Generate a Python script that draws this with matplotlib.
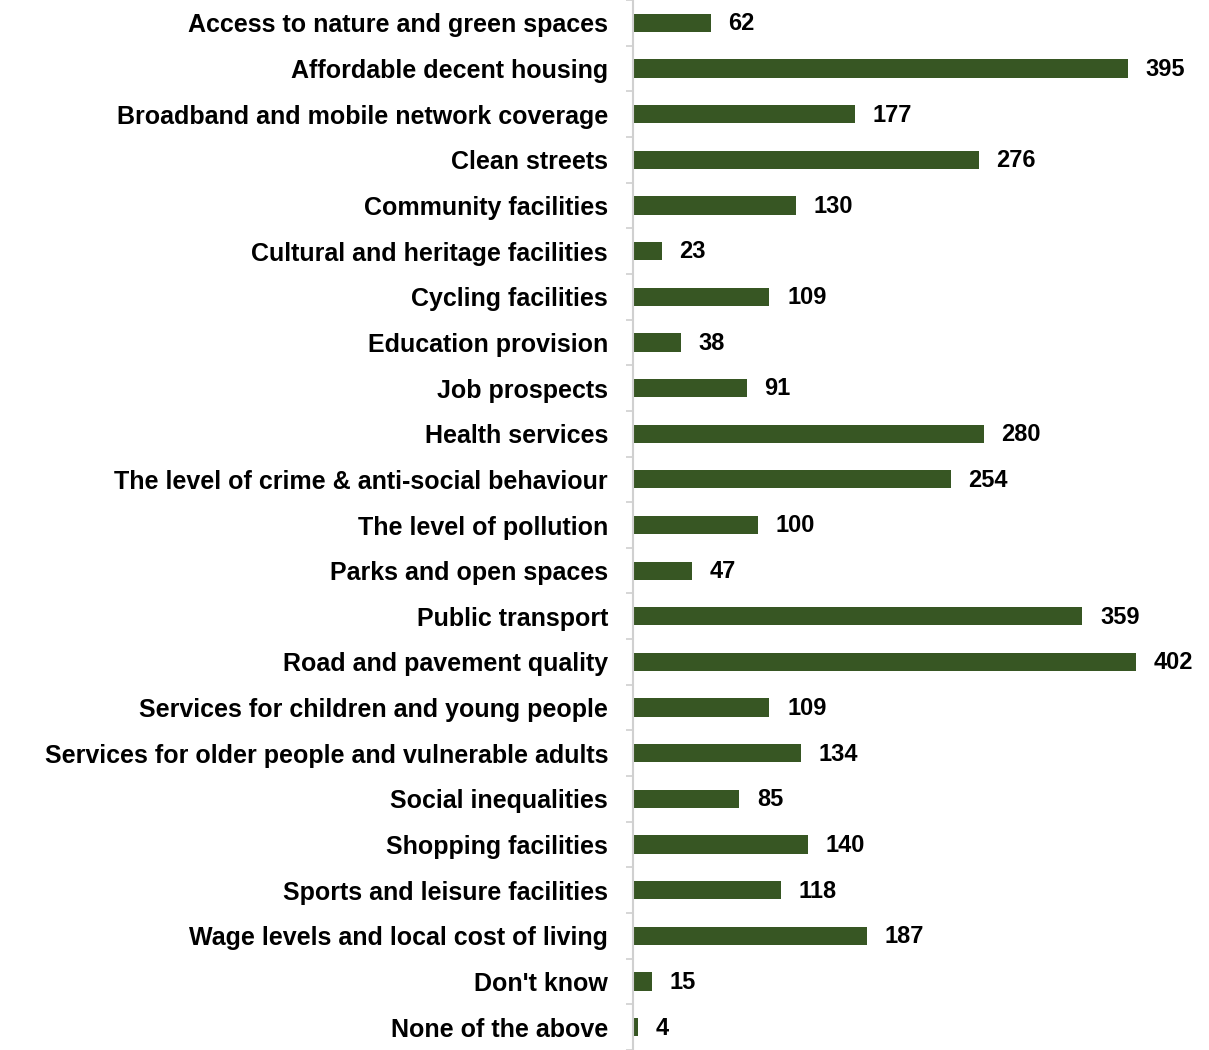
import matplotlib
matplotlib.use("Agg")
import matplotlib.pyplot as plt
import numpy as np

categories = [
    "Access to nature and green spaces",
    "Affordable decent housing",
    "Broadband and mobile network coverage",
    "Clean streets",
    "Community facilities",
    "Cultural and heritage facilities",
    "Cycling facilities",
    "Education provision",
    "Job prospects",
    "Health services",
    "The level of crime & anti-social behaviour",
    "The level of pollution",
    "Parks and open spaces",
    "Public transport",
    "Road and pavement quality",
    "Services for children and young people",
    "Services for older people and vulnerable adults",
    "Social inequalities",
    "Shopping facilities",
    "Sports and leisure facilities",
    "Wage levels and local cost of living",
    "Don't know",
    "None of the above",
]
counts = [62, 395, 177, 276, 130, 23, 109, 38, 91, 280, 254, 100, 47, 359,
          402, 109, 134, 85, 140, 118, 187, 15, 4]

bar_color = "#375623"

fig = plt.figure(figsize=(12.09, 10.5), dpi=100)
ax = fig.add_axes([0.5236, 0.0, 0.466, 1.0])

y = np.arange(len(categories))
ax.barh(y, counts, height=0.4, color=bar_color, zorder=2)

ax.set_ylim(22.4175, -0.4575)
ax.set_xlim(0, 450)

for yi, v in zip(y, counts):
    ax.text(v + 14, yi + 0.02, str(v), va="center", ha="left", fontsize=17,
            fontweight="bold", family="Liberation Sans", color="#000000")

ax.set_yticks(y)
ax.set_yticklabels(categories, fontsize=18, fontweight="bold",
                   family="Liberation Sans")
ax.tick_params(axis="y", which="major", length=0, pad=18)
ax.set_yticks(np.arange(-0.5, len(categories) + 0.5, 1), minor=True)
ax.tick_params(axis="y", which="minor", length=5, color="#d0d0d0", width=1.2)
ax.set_xticks([])

for side in ["top", "right", "bottom"]:
    ax.spines[side].set_visible(False)
ax.spines["left"].set_color("#d0d0d0")
ax.spines["left"].set_linewidth(1.5)

fig.savefig("out.png", dpi=100)
